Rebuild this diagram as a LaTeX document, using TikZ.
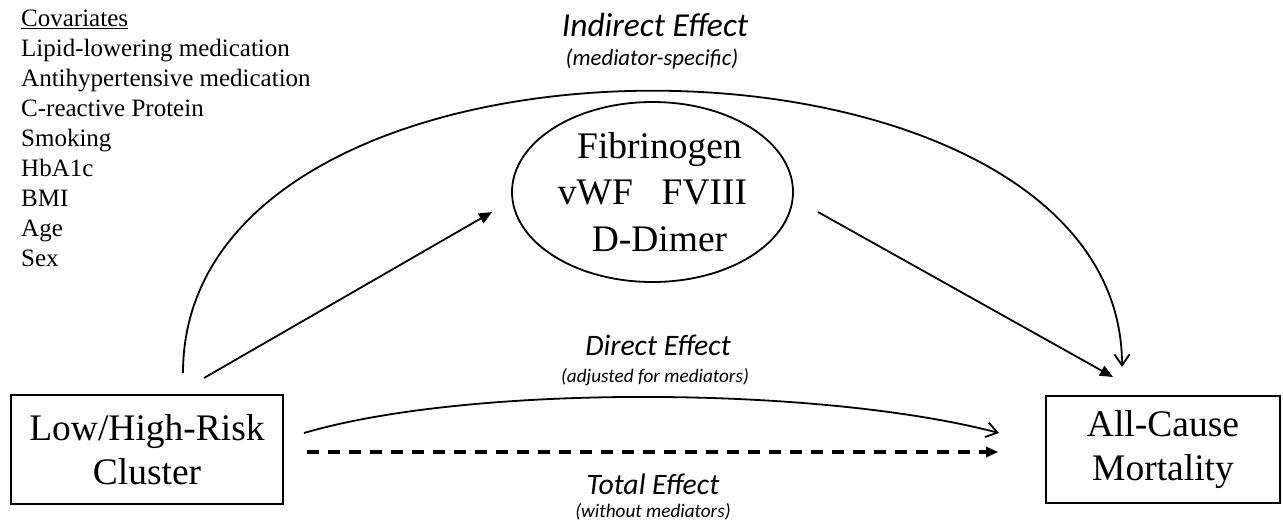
\documentclass[tikz,border=0pt]{standalone}
\usepackage{fontspec}
\setmainfont{Liberation Serif}
\newfontfamily\calfont{Carlito}
\usetikzlibrary{arrows.meta,shapes.geometric}
\tikzset{
  boxnode/.style={draw, line width=1.8pt, align=center, inner sep=0pt,
    font=\fontsize{37.5}{44}\selectfont},
  medellipse/.style={draw, ellipse, line width=1.8pt, align=center, inner sep=0pt,
    minimum width=281pt, minimum height=180pt, font=\fontsize{37.5}{46.5}\selectfont},
  bigeff/.style={anchor=base, font=\calfont\itshape\fontsize{33.5}{38}\selectfont},
  medeff/.style={anchor=base, font=\calfont\itshape\fontsize{29.7}{34}\selectfont},
  smalleff/.style={anchor=base, font=\calfont\itshape\fontsize{19.2}{22}\selectfont},
  midnote/.style={anchor=base, font=\calfont\itshape\fontsize{22.8}{26}\selectfont},
  conn/.style={line width=1.8pt},
  solidtip/.style={conn, -{Triangle[length=13pt,width=11pt]}},
  opentip/.style={conn, -{Straight Barb[length=11pt,width=15pt,line width=1.8pt]}},
  dashtip/.style={line width=3.6pt, dash pattern=on 12pt off 9pt,
    -{Triangle[length=12pt,width=11pt,line width=0pt]}}
}
\begin{document}
\begin{tikzpicture}[x=1pt,y=-1pt]
\useasboundingbox[fill=white] (0,0) rectangle (1283,523);

% covariates list
\node[anchor=north west, align=left, inner sep=0pt,
  font=\fontsize{25}{30}\selectfont] (cov) at (21,9.5)
  {\underline{Covariates}\\Lipid-lowering medication\\Antihypertensive medication\\C-reactive Protein\\Smoking\\HbA1c\\BMI\\Age\\Sex};

% boxes
\node[boxnode, minimum width=272pt, minimum height=109pt] (L) at (147,449.5)
  {Low/High-Risk\\Cluster};
\node[boxnode, minimum width=234pt, minimum height=107pt] (R) at (1163,449.5)
  {All-Cause\\Mortality};

% mediator ellipse
\node[medellipse] (M) at (652.5,192)
  {\hspace*{14pt}Fibrinogen\\vWF\hspace{0.77em}FVIII\\\hspace*{14pt}D-Dimer};

% labels
\node[bigeff] (ind) at (655,36) {Indirect Effect};
\node[midnote] (indn) at (652,65) {(mediator-specific)};
\node[medeff] (dir) at (658,355) {Direct Effect};
\node[smalleff] (dirn) at (655,382) {(adjusted for mediators)};
\node[medeff] (tot) at (653,494) {Total Effect};
\node[smalleff] (totn) at (653,517) {(without mediators)};

% connector end points
\coordinate (arcS) at (183,373);
\coordinate (arcE) at (1122,367);
\coordinate (mS) at (204,378);
\coordinate (mE) at (492,212);
\coordinate (oS) at (818,212);
\coordinate (oE) at (1113,377);
\coordinate (dS) at (304,433);
\coordinate (dE) at (999,433);
\coordinate (tS) at (307,452);
\coordinate (tE) at (998,452);

% connectors
\draw[opentip] (arcS) .. controls (183,-6) and (1122,2) .. (arcE);
\draw[solidtip] (mS) -- (mE);
\draw[solidtip] (oS) -- (oE);
\draw[opentip] (dS) .. controls (470,384) and (820,386) .. (dE);
\draw[dashtip] (tS) -- (tE);
\end{tikzpicture}
\end{document}
